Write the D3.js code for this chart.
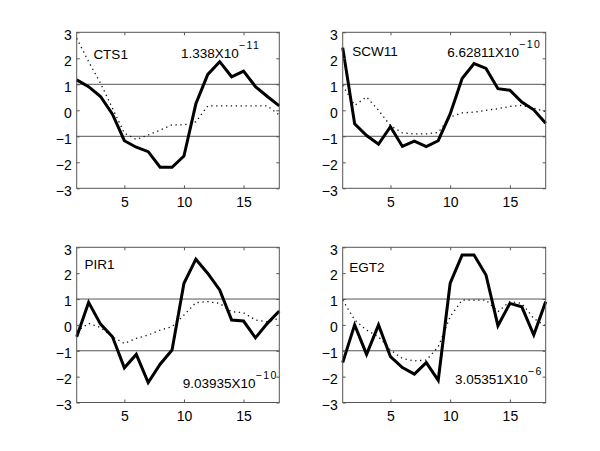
<!DOCTYPE html>
<html>
<head>
<meta charset="utf-8">
<script src="https://cdn.jsdelivr.net/npm/d3@7"></script>
<style>
html,body{margin:0;padding:0;background:#fff;}
svg{display:block;font-family:"Liberation Sans",Arial,Helvetica,sans-serif;}
</style>
</head>
<body>
<svg id="chart" width="600" height="451"></svg>
<script>
// ---- data ----
const timePoints = d3.range(1, 19); // 1..18
const geneNames = ["CTS1", "SCW11", "PIR1", "EGT2"];
const pValueMantissa = ["1.338", "6.62811", "9.03935", "3.05351"];
const pValueExponent = ["\u221211", "\u221210", "\u221210", "\u22126"];

const cts1Solid = [1.17, 0.91, 0.53, -0.15, -1.17, -1.42, -1.59, -2.19, -2.19, -1.76, 0.25, 1.38, 1.87, 1.29, 1.51, 0.91, 0.53, 0.17];
const cts1Dotted = [2.77, 1.87, 1.04, 0.08, -0.88, -1.12, -0.95, -0.76, -0.56, -0.56, -0.44, 0.17, 0.17, 0.17, 0.17, 0.17, 0.17, -0.18];

const scw11Solid = [2.41, -0.52, -0.97, -1.30, -0.63, -1.39, -1.19, -1.40, -1.17, -0.14, 1.22, 1.80, 1.61, 0.83, 0.77, 0.32, 0.02, -0.50];
const scw11Dotted = [0.96, 0.19, 0.51, 0.00, -0.59, -0.87, -0.91, -0.91, -0.85, -0.26, -0.10, -0.07, 0.00, 0.06, 0.15, 0.19, 0.08, -0.05];

const pir1Solid = [-0.46, 0.87, 0.03, -0.46, -1.66, -1.14, -2.23, -1.52, -0.97, 1.61, 2.54, 1.99, 1.35, 0.19, 0.15, -0.50, 0.06, 0.54];
const pir1Dotted = [-0.26, 0.06, -0.10, -0.46, -0.72, -0.52, -0.39, -0.20, -0.07, 0.38, 0.86, 0.90, 0.83, 0.51, 0.47, 0.19, 0.12, 0.25];

const egt2Solid = [-1.46, 0.00, -1.14, 0.00, -1.23, -1.65, -1.90, -1.46, -2.14, 1.61, 2.70, 2.70, 1.93, -0.03, 0.83, 0.70, -0.39, 0.90];
const egt2Dotted = [0.96, 0.19, -0.20, -0.46, -0.97, -1.30, -1.39, -1.36, -0.85, 0.32, 0.96, 0.96, 0.96, 0.51, 0.90, 0.83, 0.25, -0.05];

const solidSeries = [cts1Solid, scw11Solid, pir1Solid, egt2Solid];
const dottedSeries = [cts1Dotted, scw11Dotted, pir1Dotted, egt2Dotted];

const yTicks = [-3, -2, -1, 0, 1, 2, 3];
const xTicks = [5, 10, 15];
const refLines = [-1, 1];
// label anchor positions in data coordinates
const nameLabelPos = [[2.4, 1.98], [1.8, 2.1], [1.65, 2.16], [1.55, 2.03]];
const pLabelPos = [[9.75, 2.03], [9.75, 2.04], [9.9, -2.44], [10.4, -2.27]];

// ---- layout ----
const colX = [[76.7, 279.3], [342.7, 545.7]];
const rowY = [[32.3, 188.3], [247.3, 402.5]];

const svg = d3.select("#chart");

geneNames.forEach((name, i) => {
  const col = i % 2, row = Math.floor(i / 2);
  const x = d3.scaleLinear().domain([1, 18]).range(colX[col]);
  const y = d3.scaleLinear().domain([-3, 3]).range([rowY[row][1], rowY[row][0]]);
  const g = svg.append("g");

  // reference lines
  g.selectAll("line.ref").data(refLines).enter().append("line")
    .attr("x1", x(1)).attr("x2", x(18))
    .attr("y1", d => y(d)).attr("y2", d => y(d))
    .attr("stroke", "#555").attr("stroke-width", 1);

  const line = d3.line().x((d, k) => x(timePoints[k])).y(d => y(d));

  // dotted series
  g.append("path").datum(dottedSeries[i])
    .attr("d", line).attr("fill", "none")
    .attr("stroke", "#111").attr("stroke-width", 1.3)
    .attr("stroke-dasharray", "1.3,3.6");

  // solid series
  g.append("path").datum(solidSeries[i])
    .attr("d", line).attr("fill", "none")
    .attr("stroke", "#000").attr("stroke-width", 3)
    .attr("stroke-linejoin", "miter");

  // axes
  const tickStyle = sel => {
    sel.select(".domain").remove();
    sel.selectAll(".tick line").attr("stroke", "#555");
    sel.selectAll(".tick text").attr("font-size", 14).attr("fill", "#000")
      .attr("font-family", "Liberation Sans, Arial, sans-serif");
  };
  const fmt = d => d < 0 ? "\u2212" + Math.abs(d) : String(d);

  g.append("g").attr("transform", `translate(${x(1)},0)`)
    .call(d3.axisLeft(y).tickValues(yTicks).tickFormat(fmt).tickSizeInner(-3).tickPadding(5))
    .call(tickStyle).selectAll(".tick text").attr("dy", "0.48em");
  g.append("g").attr("transform", `translate(${x(18)},0)`)
    .call(d3.axisRight(y).tickValues(yTicks).tickFormat("").tickSizeInner(-3))
    .call(tickStyle);
  g.append("g").attr("transform", `translate(0,${y(-3)})`)
    .call(d3.axisBottom(x).tickValues(xTicks).tickFormat(fmt).tickSizeInner(-3).tickPadding(9))
    .call(tickStyle);
  g.append("g").attr("transform", `translate(0,${y(3)})`)
    .call(d3.axisTop(x).tickValues(xTicks).tickFormat("").tickSizeInner(-3))
    .call(tickStyle);

  // box
  g.append("rect")
    .attr("x", x(1)).attr("y", y(3))
    .attr("width", x(18) - x(1)).attr("height", y(-3) - y(3))
    .attr("fill", "none").attr("stroke", "#555").attr("stroke-width", 1);

  // labels
  g.append("text").attr("x", x(nameLabelPos[i][0])).attr("y", y(nameLabelPos[i][1]))
    .attr("font-size", 13.5).text(name);
  const t = g.append("text").attr("x", x(pLabelPos[i][0])).attr("y", y(pLabelPos[i][1]))
    .attr("font-size", 13.5);
  t.append("tspan").text(pValueMantissa[i] + "X10");
  t.append("tspan").attr("dy", -9).attr("font-size", 10.5).attr("letter-spacing", 1.5)
    .text(pValueExponent[i]);
});
</script>
</body>
</html>
